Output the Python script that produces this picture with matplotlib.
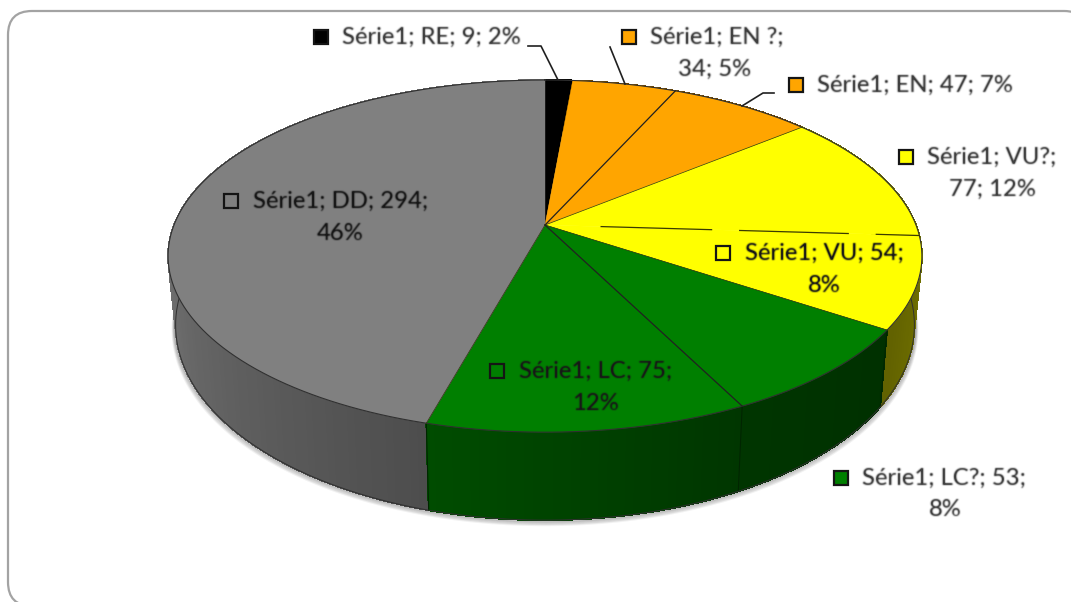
import numpy as np
import matplotlib
matplotlib.use("Agg")
import matplotlib.pyplot as plt
from matplotlib.patches import FancyBboxPatch, Polygon

categories = ["RE", "EN ?", "EN", "VU?", "VU", "LC?", "LC", "DD"]
values = [9, 34, 47, 77, 54, 53, 75, 294]
percents = [2, 5, 7, 12, 8, 8, 12, 46]
colors = ["#000000", "#FFA500", "#FFA500", "#FFFF00", "#FFFF00", "#007F00", "#007F00", "#808080"]
series_name = "Série1"

W, H = 1071, 602
fig = plt.figure(figsize=(W / 100, H / 100), dpi=100, facecolor="white")
ax = fig.add_axes([0, 0, 1, 1])
ax.set_xlim(0, W)
ax.set_ylim(H, 0)
ax.axis("off")

CX, CY, A, B, K = 545, 225, 371, 170.6, 0.1765


def soften(im, dpi, sigma=0.7):
    r = 3
    k = np.exp(-0.5 * (np.arange(-r, r + 1) / sigma) ** 2)
    k /= k.sum()
    alpha = np.pad(im[..., 3], r)
    alpha = np.apply_along_axis(lambda m: np.convolve(m, k, mode="same"), 0, alpha)
    alpha = np.apply_along_axis(lambda m: np.convolve(m, k, mode="same"), 1, alpha)
    mask = im[..., 3] > 0.5
    rgb = im[mask][:, :3].mean(axis=0) if mask.any() else np.zeros(3)
    out = np.zeros(alpha.shape + (4,))
    out[..., :3] = rgb
    out[..., 3] = np.clip(alpha * 1.2, 0, 1)
    return out, -r, -r


def top(theta):
    u, v = np.sin(theta), np.cos(theta)
    d = 1 + K * v
    return CX + A * u / d, CY - B * v / d


def bottom(theta):
    x, y = top(theta)
    return CX + (x - CX) * 0.98, CY + 65.6 + 1.108 * (y - CY)


def shade(theta):
    deg = np.degrees(theta)
    return np.interp(deg, [100, 124, 153, 195, 270, 360], [.45, .38, .42, .60, .93, .93])


edges = np.cumsum([0] + values) / sum(values) * 2 * np.pi

# panel: its right and bottom edges run off the picture
ax.add_patch(FancyBboxPatch((8, 11), 1080, 595, boxstyle="round,pad=0,rounding_size=24",
                            fc="white", ec="#a3a3a3", lw=1.6, zorder=0))

# soft shadow under the silhouette
tt = np.linspace(np.pi * 0.45, np.pi * 1.6, 200)
bx, by = bottom(tt)
for off, al in [(5, .05), (4, .07), (3, .09), (2, .12), (1, .15)]:
    ax.plot(bx + off * np.sin(tt) * .6, by + off, color="black", alpha=al, lw=1.6, zorder=1)

# side wall, back to front
strips = []
for i, val in enumerate(values):
    t = np.linspace(edges[i], edges[i + 1], max(3, int(val * 0.5)))
    for a, b in zip(t[:-1], t[1:]):
        strips.append((np.cos((a + b) / 2), a, b, colors[i]))
strips.sort(key=lambda s: -s[0])
for _, a, b, c in strips:
    rgb = np.array(matplotlib.colors.to_rgb(c)) * shade((a + b) / 2)
    ts = np.array([a, (a + b) / 2, b])
    x1, y1 = top(ts)
    x2, y2 = bottom(ts[::-1])
    ax.add_patch(Polygon(np.c_[np.r_[x1, x2], np.r_[y1, y2]], closed=True, fc=rgb, ec=rgb, lw=.6,
                         antialiased=False, zorder=2))

# vertical seams
for e in edges[5:8]:
    if np.cos(e) < 0:
        ax.plot([top(e)[0], bottom(e)[0]], [top(e)[1], bottom(e)[1]], color="#002500", lw=.8, zorder=3)

# top face
for i in range(len(values)):
    t = np.linspace(edges[i], edges[i + 1], 120)
    x, y = top(t)
    ax.add_patch(Polygon(np.c_[np.r_[CX, x], np.r_[CY, y]], closed=True, fc=colors[i], ec=colors[i], lw=.3, zorder=4))

# rims
tt = np.linspace(0, 2 * np.pi, 720)
x, y = top(tt)
ax.plot(x, y, color="#303030", lw=.8, zorder=5)
tt = np.linspace(np.pi * 0.45, np.pi * 1.6, 300)
x, y = bottom(tt)
ax.plot(x, y, color="#303030", lw=.7, zorder=3)

# dividers
for i, e in enumerate(edges[:-1]):
    x, y = top(e)
    if i == 4:
        for f0, f1 in [(.15, .445), (.52, .81), (.885, 1)]:
            ax.plot([CX + f0 * (x - CX), CX + f1 * (x - CX)], [CY + f0 * (y - CY), CY + f1 * (y - CY)],
                    color="#3a3a00", lw=.9, zorder=5)
    elif i in (2, 6):
        ax.plot([CX, x], [CY, y], color="#202020", lw=.9, zorder=5)
    elif i in (3, 5, 7):
        ax.plot([CX, x], [CY, y], color="#303010", lw=.5, zorder=5)

# label layout, pixels: marker x, y, first-line x, second-line centre x
layout = {
    "RE": (321, 37, 342, None),
    "EN ?": (629, 37, 650, 715),
    "EN": (796, 85, 817, None),
    "VU?": (906, 157, 927, 992),
    "VU": (723, 253, 745, 824),
    "LC?": (841, 478, 862, 945),
    "LC": (497, 371, 519, 595),
    "DD": (231, 201, 253, 340),
}
FS = 17.2


def label(x, y, s, ha, col):
    t = ax.text(x, y, s, fontsize=FS, family="Lato", color=col, va="center", ha=ha, zorder=8)
    t.set_agg_filter(soften)


for cat, val, pct, col in zip(categories, values, percents, colors):
    mx, my, tx, cx2 = layout[cat]
    inside = cat in ("VU", "LC", "DD")
    txtc = "#181818" if inside else "#404040"
    ax.plot([mx], [my], marker="s", ms=10.5, mfc=col, mec="#151515", mew=1.6, zorder=7, ls="none")
    if cx2 is None:
        label(tx, my, f"{series_name}; {cat}; {val}; {pct}%", "left", txtc)
    elif cat in ("VU", "LC", "DD", "LC?"):
        label(tx, my, f"{series_name}; {cat}; {val};", "left", txtc)
        label(cx2, my + 32, f"{pct}%", "center", txtc)
    else:
        label(tx, my, f"{series_name}; {cat};", "left", txtc)
        label(cx2, my + 32, f"{val}; {pct}%", "center", txtc)

# leader lines
for xs, ys in [([528, 541, 558], [46, 46, 80]),
               ([610, 625], [47, 84]),
               ([742, 763, 774], [106, 93, 93])]:
    ax.plot(xs, ys, color="#202020", lw=1.2, zorder=6)

fig.savefig("out.png", dpi=100)
